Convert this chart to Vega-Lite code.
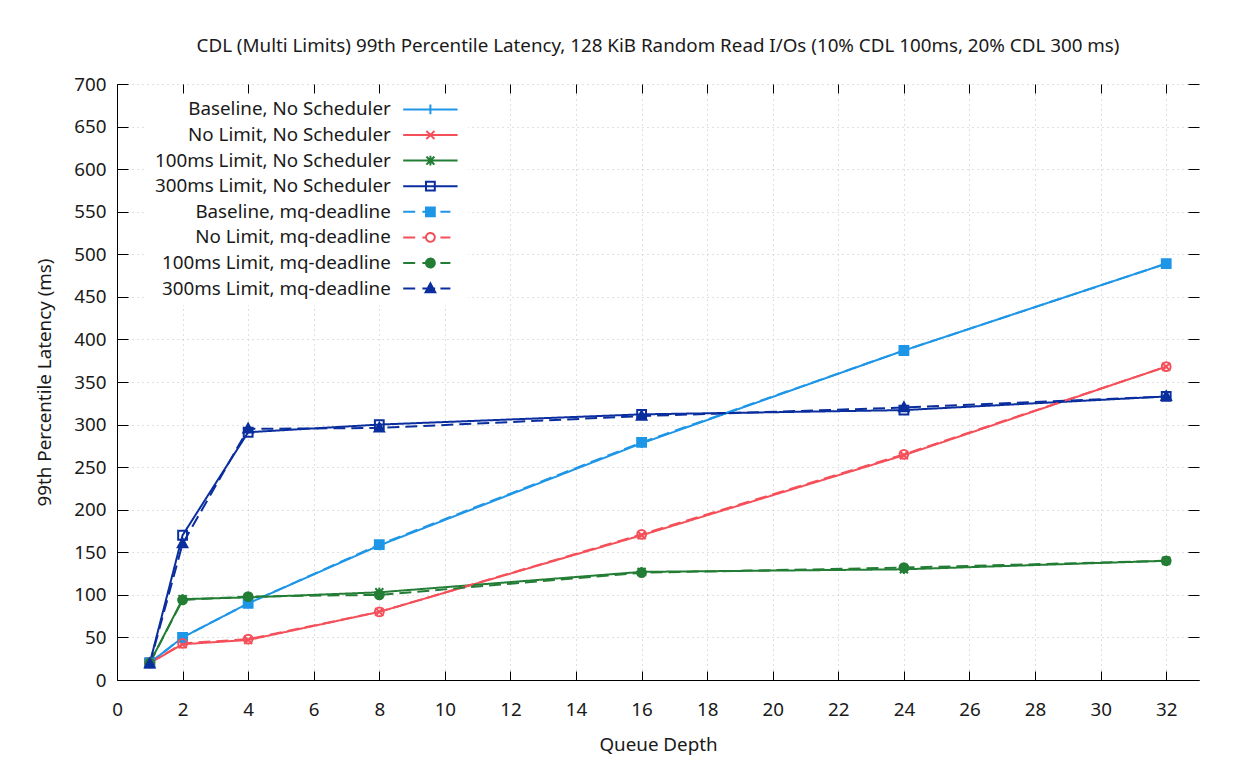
{
  "$schema": "https://vega.github.io/schema/vega-lite/v6.json",
  "autosize": "none",
  "width": 1082,
  "height": 596,
  "padding": {"left": 117, "top": 84, "right": 44, "bottom": 82},
  "background": "white",
  "title": {"text": "CDL (Multi Limits) 99th Percentile Latency, 128 KiB Random Read I/Os (10% CDL 100ms, 20% CDL 300 ms)", "fontSize": 18.8, "font": "Noto Sans", "fontWeight": "normal", "color": "#1a1a1a", "anchor": "middle", "offset": 19},
  "config": {
    "view": {"stroke": null},
    "font": "Noto Sans",
    "axis": {"labelFont": "Noto Sans", "titleFont": "Noto Sans", "labelFontSize": 18.8, "titleFontSize": 18.8, "titleFontWeight": "normal", "labelColor": "#1a1a1a", "titleColor": "#1a1a1a", "domainColor": "#000", "tickColor": "#000", "gridColor": "#c0c0c0", "gridDash": [1, 4], "gridWidth": 1}
  },
  "data": {"values": [
    {"depth": 1, "series": "Baseline, No Scheduler", "latency": 20},
    {"depth": 2, "series": "Baseline, No Scheduler", "latency": 50},
    {"depth": 4, "series": "Baseline, No Scheduler", "latency": 90},
    {"depth": 8, "series": "Baseline, No Scheduler", "latency": 158},
    {"depth": 16, "series": "Baseline, No Scheduler", "latency": 278},
    {"depth": 24, "series": "Baseline, No Scheduler", "latency": 387},
    {"depth": 32, "series": "Baseline, No Scheduler", "latency": 489},
    {"depth": 1, "series": "No Limit, No Scheduler", "latency": 20},
    {"depth": 2, "series": "No Limit, No Scheduler", "latency": 42},
    {"depth": 4, "series": "No Limit, No Scheduler", "latency": 47},
    {"depth": 8, "series": "No Limit, No Scheduler", "latency": 80},
    {"depth": 16, "series": "No Limit, No Scheduler", "latency": 170},
    {"depth": 24, "series": "No Limit, No Scheduler", "latency": 264},
    {"depth": 32, "series": "No Limit, No Scheduler", "latency": 368},
    {"depth": 1, "series": "100ms Limit, No Scheduler", "latency": 20},
    {"depth": 2, "series": "100ms Limit, No Scheduler", "latency": 95},
    {"depth": 4, "series": "100ms Limit, No Scheduler", "latency": 97},
    {"depth": 8, "series": "100ms Limit, No Scheduler", "latency": 103},
    {"depth": 16, "series": "100ms Limit, No Scheduler", "latency": 127},
    {"depth": 24, "series": "100ms Limit, No Scheduler", "latency": 130},
    {"depth": 32, "series": "100ms Limit, No Scheduler", "latency": 140},
    {"depth": 1, "series": "300ms Limit, No Scheduler", "latency": 20},
    {"depth": 2, "series": "300ms Limit, No Scheduler", "latency": 170},
    {"depth": 4, "series": "300ms Limit, No Scheduler", "latency": 291},
    {"depth": 8, "series": "300ms Limit, No Scheduler", "latency": 300},
    {"depth": 16, "series": "300ms Limit, No Scheduler", "latency": 312},
    {"depth": 24, "series": "300ms Limit, No Scheduler", "latency": 317},
    {"depth": 32, "series": "300ms Limit, No Scheduler", "latency": 333},
    {"depth": 1, "series": "Baseline, mq-deadline", "latency": 20},
    {"depth": 2, "series": "Baseline, mq-deadline", "latency": 50},
    {"depth": 4, "series": "Baseline, mq-deadline", "latency": 90},
    {"depth": 8, "series": "Baseline, mq-deadline", "latency": 159},
    {"depth": 16, "series": "Baseline, mq-deadline", "latency": 279},
    {"depth": 24, "series": "Baseline, mq-deadline", "latency": 387},
    {"depth": 32, "series": "Baseline, mq-deadline", "latency": 489},
    {"depth": 1, "series": "No Limit, mq-deadline", "latency": 20},
    {"depth": 2, "series": "No Limit, mq-deadline", "latency": 43},
    {"depth": 4, "series": "No Limit, mq-deadline", "latency": 48},
    {"depth": 8, "series": "No Limit, mq-deadline", "latency": 80},
    {"depth": 16, "series": "No Limit, mq-deadline", "latency": 171},
    {"depth": 24, "series": "No Limit, mq-deadline", "latency": 265},
    {"depth": 32, "series": "No Limit, mq-deadline", "latency": 368},
    {"depth": 1, "series": "100ms Limit, mq-deadline", "latency": 20},
    {"depth": 2, "series": "100ms Limit, mq-deadline", "latency": 94},
    {"depth": 4, "series": "100ms Limit, mq-deadline", "latency": 98},
    {"depth": 8, "series": "100ms Limit, mq-deadline", "latency": 100},
    {"depth": 16, "series": "100ms Limit, mq-deadline", "latency": 126},
    {"depth": 24, "series": "100ms Limit, mq-deadline", "latency": 132},
    {"depth": 32, "series": "100ms Limit, mq-deadline", "latency": 140},
    {"depth": 1, "series": "300ms Limit, mq-deadline", "latency": 19},
    {"depth": 2, "series": "300ms Limit, mq-deadline", "latency": 160},
    {"depth": 4, "series": "300ms Limit, mq-deadline", "latency": 295},
    {"depth": 8, "series": "300ms Limit, mq-deadline", "latency": 296},
    {"depth": 16, "series": "300ms Limit, mq-deadline", "latency": 310},
    {"depth": 24, "series": "300ms Limit, mq-deadline", "latency": 320},
    {"depth": 32, "series": "300ms Limit, mq-deadline", "latency": 333}
  ]},
  "resolve": {"axis": {"x": "independent", "y": "independent"}},
  "layer": [
    {
      "mark": {"type": "line", "strokeWidth": 2},
      "encoding": {
        "x": {"field": "depth", "type": "quantitative", "scale": {"domain": [0, 33], "nice": false, "zero": false},
          "axis": {"orient": "bottom", "title": "Queue Depth", "values": [0,2,4,6,8,10,12,14,16,18,20,22,24,26,28,30,32], "tickSize": -9, "labelPadding": 29, "titlePadding": 17, "grid": true, "labelFlush": false}},
        "y": {"field": "latency", "type": "quantitative", "scale": {"domain": [0, 700], "nice": false},
          "axis": {"orient": "left", "title": "99th Percentile Latency (ms)", "values": [0,50,100,150,200,250,300,350,400,450,500,550,600,650,700], "tickSize": -11, "labelPadding": 22, "titlePadding": 19, "grid": true}},
        "color": {"field": "series", "type": "nominal",
          "scale": {"domain": ["Baseline, No Scheduler", "No Limit, No Scheduler", "100ms Limit, No Scheduler", "300ms Limit, No Scheduler", "Baseline, mq-deadline", "No Limit, mq-deadline", "100ms Limit, mq-deadline", "300ms Limit, mq-deadline"],
            "range": ["#1e96e8", "#f5505a", "#237d35", "#0b2e9e", "#1e96e8", "#f5505a", "#237d35", "#0b2e9e"]},
          "legend": {
            "orient": "none", "legendX": 28, "legendY": 10, "title": null,
            "symbolSize": 256, "symbolStrokeWidth": 2, "symbolType": "circle", "symbolOffset": 270,
            "labelAlign": "right", "labelOffset": -49, "labelFontSize": 18.8, "labelFont": "Noto Sans", "labelColor": "#1a1a1a", "labelLimit": 400,
            "rowPadding": 5.6, "padding": 6, "fillColor": "white",
            "encode": {"symbols": {"update": {
              "shape": {"signal": "['M-3.4 0L3.4 0M-0.6 0L0.6 0M0 -0.6L0 0.6', 'M-3.4 0L3.4 0M-0.5 -0.5L0.5 0.5M-0.5 0.5L0.5 -0.5', 'M-3.4 0L3.4 0M-0.6 0L0.6 0M0 -0.6L0 0.6M-0.5 -0.5L0.5 0.5M-0.5 0.5L0.5 -0.5', 'M-3.4 0L3.4 0M-0.55 -0.55L0.55 -0.55L0.55 0.55L-0.55 0.55Z', 'M-3.4 0L-1.9 0M-1 0L0.6 0M1.25 0L2.5 0M-0.55 -0.55L0.55 -0.55L0.55 0.55L-0.55 0.55Z', 'M-3.4 0L-1.9 0M-1 0L-0.55 0M0.55 0L0.6 0M1.25 0L2.5 0M-0.55 0A0.55 0.55 0 1 1 0.55 0A0.55 0.55 0 1 1 -0.55 0Z', 'M-3.4 0L-1.9 0M-1 0L0.6 0M1.25 0L2.5 0M-0.55 0A0.55 0.55 0 1 1 0.55 0A0.55 0.55 0 1 1 -0.55 0Z', 'M-3.4 0L-1.9 0M-1 0L0.6 0M1.25 0L2.5 0M0 -0.65L0.6 0.45L-0.6 0.45Z'][indexof(['Baseline, No Scheduler', 'No Limit, No Scheduler', '100ms Limit, No Scheduler', '300ms Limit, No Scheduler', 'Baseline, mq-deadline', 'No Limit, mq-deadline', '100ms Limit, mq-deadline', '300ms Limit, mq-deadline'], datum.value)]"},
              "fill": {"signal": "indexof(['Baseline, mq-deadline', '100ms Limit, mq-deadline', '300ms Limit, mq-deadline'], datum.value) >= 0 ? scale('color', datum.value) : 'transparent'"},
              "strokeDash": {"value": [1, 0]}
            }}}
          }},
        "strokeDash": {"field": "series", "type": "nominal", "sort": null,
          "scale": {"range": [[1, 0], [1, 0], [1, 0], [1, 0], [12, 6], [12, 6], [12, 6], [12, 6]]},
          "legend": null}
      }
    },
    {
      "mark": {"type": "point", "filled": false, "strokeWidth": 2, "size": 256, "opacity": 1},
      "encoding": {
        "x": {"field": "depth", "type": "quantitative",
          "axis": {"orient": "top", "title": null, "labels": false, "domain": false, "grid": false, "values": [0,2,4,6,8,10,12,14,16,18,20,22,24,26,28,30,32], "tickSize": -9}},
        "y": {"field": "latency", "type": "quantitative",
          "axis": {"orient": "right", "title": null, "labels": false, "domain": false, "grid": false, "values": [0,50,100,150,200,250,300,350,400,450,500,550,600,650,700], "tickSize": -11}},
        "color": {"field": "series", "type": "nominal", "legend": null},
        "shape": {"field": "series", "type": "nominal", "legend": null, "sort": null,
          "scale": {"range": ["M-0.6,0H0.6M0,-0.6V0.6", "M-0.5,-0.5L0.5,0.5M-0.5,0.5L0.5,-0.5", "M-0.6,0H0.6M0,-0.6V0.6M-0.5,-0.5L0.5,0.5M-0.5,0.5L0.5,-0.5", "M-0.55,-0.55H0.55V0.55H-0.55Z", "M-0.55,-0.55H0.55V0.55H-0.55Z", "M-0.55,0A0.55,0.55,0,1,1,0.55,0A0.55,0.55,0,1,1,-0.55,0Z", "M-0.55,0A0.55,0.55,0,1,1,0.55,0A0.55,0.55,0,1,1,-0.55,0Z", "M0,-0.65L0.6,0.45H-0.6Z"]}},
        "fill": {"field": "series", "type": "nominal", "legend": null, "sort": null,
          "scale": {"range": ["transparent", "transparent", "transparent", "transparent", "#1e96e8", "transparent", "#237d35", "#0b2e9e"]}}
      }
    }
  ]
}
